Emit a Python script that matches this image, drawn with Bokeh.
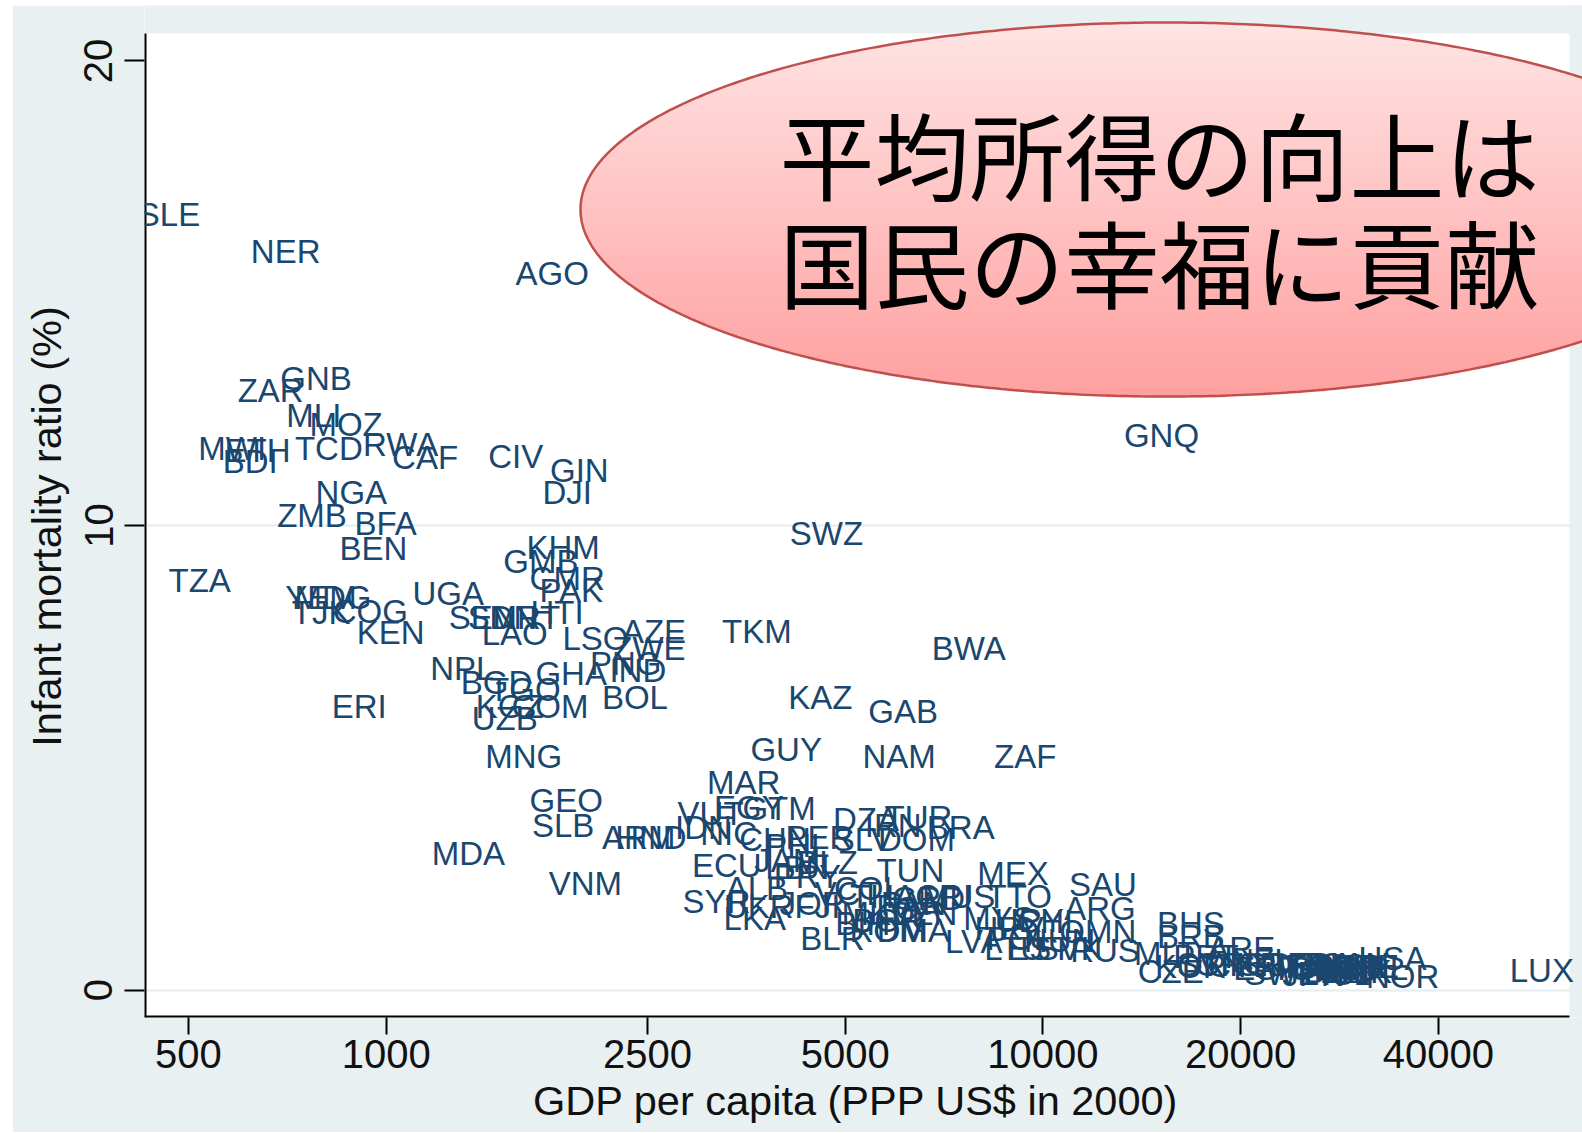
import numpy as np
from bokeh.plotting import figure
from bokeh.models import ColumnDataSource, Range1d, FixedTicker
from bokeh.embed import file_html
from bokeh.resources import INLINE
from bokeh.core.properties import value

# ---------------- data ----------------
codes = ["SLE","NER","AGO","GNB","ZAR","MLI","MOZ","MWI","ETH","BDI","TCD","RWA","CAF","CIV","GIN","DJI",
         "NGA","ZMB","BFA","BEN","KHM","GMB","CMR","PAK","TZA","YEM","MDG","TJK","COG","KEN","UGA","SEN",
         "SDN","MRT","LAO","HTI","LSO","AZE","ZWE","PNG","IND","GHA","NPL","BGD","TGO","KGZ","COM","UZB",
         "ERI","BOL","MNG","TKM","SWZ","BWA","KAZ","GAB","GUY","NAM","ZAF","GNQ","MAR","EGY","GTM","VUT",
         "IDN","NIC","CHN","PHL","PER","DZA","IRN","TUR","BRA","DOM","SLV","SLB","GEO","ARM","HND","MDA",
         "VNM","ECU","JAM","LBN","BLZ","ALB","PRY","SYR","LKA","UKR","FJI","VCT","TUN","THA","COL","PAN",
         "CRI","MKD","BIH","BGR","ROM","DMA","LCA","GRD","VEN","JOR","BLR","LVA","MUS","ARG","SAU","MEX",
         "TTO","OMN","URY","CHL","MYS","HRV","POL","LTU","EST","HUN","SVK","RUS","BHS","BRB","ARE","CZE",
         "KOR","SVN","PRT","GRC","ISR","MLT","CYP","NZL","ESP","ITA","FIN","FRA","DEU","JPN","GBR","AUT",
         "BEL","NLD","DNK","CAN","AUS","CHE","ISL","HKG","SWE","SGP","IRL","USA","NOR","LUX"]

gdp = [467, 703, 1790, 782, 667, 776, 869, 583, 637, 621, 818, 1052, 1146, 1575, 1968, 1886,
       885, 771, 998, 956, 1860, 1720, 1886, 1913, 520, 796, 830, 796, 946, 1016, 1243, 1402,
       1504, 1626, 1569, 1820, 2083, 2557, 2512, 2316, 2416, 1913, 1306, 1472, 1626, 1542, 1776, 1515,
       910, 2392, 1620, 3667, 4681, 7707, 4583, 6126, 4064, 6040, 9396, 15150, 3503, 3566, 3965, 3118,
       3042, 3322, 3908, 4225, 4566, 5375, 5914, 6463, 7496, 6418, 5317, 1860, 1880, 2424, 2530, 1334,
       2010, 3300, 4079, 4225, 4699, 3667, 4377, 3184, 3641, 3693, 4535, 5044, 6281, 5709, 5413, 6348,
       7059, 5609, 5317, 5808, 5808, 6348, 6237, 6693, 6573, 4457, 4779, 7847, 7441, 12210, 12340, 9005,
       9199, 12120, 9530, 10230, 8570, 8880, 9199, 9040, 9872, 10600, 10980, 12430, 16790, 16790, 20040, 15650,
       16790, 18020, 17700, 19340, 21130, 15380, 20040, 21510, 21880, 24780, 25660, 26400, 24900, 25800, 26750, 28530,
       27740, 29350, 30090, 29770, 27540, 30830, 29040, 28330, 23090, 29040, 32870, 34050, 35280, 57480]

imr = [16.70, 15.90, 15.42, 13.16, 12.90, 12.36, 12.18, 11.66, 11.62, 11.38, 11.66, 11.75, 11.47, 11.49, 11.18, 10.71,
       10.71, 10.21, 10.05, 9.51, 9.53, 9.23, 8.86, 8.60, 8.82, 8.45, 8.45, 8.12, 8.14, 7.69, 8.53, 8.01,
       8.01, 8.01, 7.67, 8.12, 7.56, 7.71, 7.36, 7.04, 6.88, 6.82, 6.93, 6.62, 6.47, 6.10, 6.10, 5.84,
       6.10, 6.30, 5.02, 7.71, 9.82, 7.36, 6.30, 5.99, 5.17, 5.02, 5.02, 11.94, 4.47, 3.93, 3.91, 3.80,
       3.50, 3.37, 3.24, 3.11, 3.28, 3.67, 3.54, 3.71, 3.50, 3.24, 3.24, 3.54, 4.08, 3.28, 3.28, 2.93,
       2.30, 2.69, 2.80, 2.63, 2.74, 2.19, 2.45, 1.91, 1.54, 1.80, 1.80, 2.08, 2.58, 2.02, 2.19, 1.87,
       2.02, 1.65, 1.43, 1.50, 1.28, 1.28, 1.76, 1.98, 1.65, 1.87, 1.11, 1.04, 2.02, 1.76, 2.28, 2.50,
       2.02, 1.26, 1.50, 1.48, 1.54, 1.32, 1.11, 0.89, 0.89, 1.06, 0.89, 0.85, 1.43, 1.15, 0.89, 0.41,
       0.50, 0.56, 0.72, 0.56, 0.56, 0.78, 0.52, 0.63, 0.46, 0.50, 0.50, 0.56, 0.56, 0.33, 0.46, 0.50,
       0.41, 0.46, 0.41, 0.56, 0.52, 0.50, 0.35, 0.41, 0.35, 0.50, 0.46, 0.67, 0.30, 0.43]

x_ticks = [500, 1000, 2500, 5000, 10000, 20000, 40000]
y_ticks = [0, 10, 20]
x_title = "GDP per capita (PPP US$ in 2000)"
y_title = "Infant mortality ratio (%)"
callout_lines = ["平均所得の向上は", "国民の幸福に貢献"]

# ---------------- plot-region geometry ----------------
X0, X1 = 428.6, 63330.0
Y0, Y1 = -0.59, 20.59
FL, FR, FT, FB = 144.0, 1569.0, 33.0, 1017.0       # page pixels of the white plot region
LX0, LX1 = np.log10(X0), np.log10(X1)

def xd(px):
    return 10 ** (LX0 + (np.asarray(px) - FL) / (FR - FL) * (LX1 - LX0))

def yd(py):
    return Y0 + (FB - np.asarray(py)) / (FB - FT) * (Y1 - Y0)

FIG_L, FIG_T, FIG_R, FIG_B = 12, 5, 1582, 1132
W, H = FIG_R - FIG_L, FIG_B - FIG_T
BG = "#e8f0f2"

p = figure(width=W, height=H, x_axis_type="log",
           x_range=Range1d(X0, float(xd(FIG_R))), y_range=Range1d(Y0, float(yd(FIG_T))),
           output_backend="svg", toolbar_location=None,
           min_border_left=int(FL - FIG_L), min_border_right=0, min_border_top=0,
           min_border_bottom=int(FIG_B - FB))
p.margin = (FIG_T, 0, 0, FIG_L)

p.background_fill_color = "white"
p.border_fill_color = BG
p.outline_line_color = None

FONT = "Liberation Sans"
for ax in (p.xaxis[0], p.yaxis[0]):
    ax.axis_line_color = None
    ax.major_tick_line_color = "black"
    ax.major_tick_line_width = 2
    ax.major_tick_in = 0
    ax.minor_tick_line_color = None
    ax.major_label_text_font = FONT
    ax.major_label_text_font_size = "40px"
    ax.major_label_text_color = "#111111"
    ax.major_label_text_line_height = 1.0
    ax.axis_label_text_font = FONT
    ax.axis_label_text_font_size = "41.5px"
    ax.axis_label_text_font_style = "normal"
    ax.axis_label_text_color = "#111111"
    ax.axis_label_text_line_height = 1.0

p.xaxis.ticker = FixedTicker(ticks=x_ticks)
p.xaxis.major_label_overrides = {t: str(t) for t in x_ticks}
p.xaxis.major_tick_out = 17
p.xaxis.major_label_standoff = 5
p.xaxis.axis_label_standoff = 6
# trailing non-breaking spaces re-centre the titles on the white plot region
p.xaxis.axis_label = x_title + "\u00a0\u200a"

p.yaxis.ticker = FixedTicker(ticks=y_ticks)
p.yaxis.major_label_orientation = "vertical"
p.yaxis.major_tick_out = 20
p.yaxis.major_label_standoff = 12
p.yaxis.axis_label_standoff = 12
p.yaxis.axis_label = y_title + "\u00a0\u00a0\u2006"

p.xgrid.grid_line_color = None
p.ygrid.ticker = FixedTicker(ticks=[0, 10])
p.ygrid.grid_line_color = "#e3ecef"
p.ygrid.grid_line_width = 2

# outer margin strips (top and right) inside the extended frame
p.quad(left=[X0 / 10, float(xd(FR))], right=[X1 * 10, X1 * 10],
       bottom=[float(yd(FT)), Y0 - 10], top=[Y1 + 10, Y1 + 10],
       fill_color=BG, line_color=None)

# axis lines limited to the plot region
p.segment(x0=[X0, X0], y0=[Y0, Y0], x1=[X0, float(xd(FR))], y1=[float(yd(FT)), Y0],
          line_color="black", line_width=4)

# ---------------- country labels ----------------
src = ColumnDataSource(dict(gdp=gdp, imr=imr, code=codes))
p.text(x="gdp", y="imr", text="code", source=src,
       text_font=value(FONT), text_font_size="33px", text_color="#1a476f",
       text_align="center", text_baseline="middle")

# ---------------- callout ellipse ----------------
cx, cy, ea, eb = 1166.0, 209.0, 586.0, 187.0
top_c = np.array([255, 229, 229])
bot_c = np.array([255, 160, 160])
step = 2.0
lefts, rights, tops, bottoms, cols = [], [], [], [], []
py = cy - eb
while py < cy + eb:
    mid = py + step / 2
    t = (mid - (cy - eb)) / (2 * eb)
    hw = ea * np.sqrt(max(0.0, 1 - ((mid - cy) / eb) ** 2))
    c = (top_c + (bot_c - top_c) * t).astype(int)
    lefts.append(float(xd(cx - hw)))
    rights.append(float(xd(cx + hw)))
    tops.append(float(yd(py)))
    bottoms.append(float(yd(py + step + 0.8)))
    cols.append("#%02x%02x%02x" % tuple(c))
    py += step
p.quad(left=lefts, right=rights, top=tops, bottom=bottoms, fill_color=cols, line_color=None)

th = np.linspace(0, 2 * np.pi, 600)
p.line(x=xd(cx + ea * np.cos(th)), y=yd(cy + eb * np.sin(th)), line_color="#c0504d", line_width=2.5)

p.text(x=[float(xd(1159))] * 2, y=[float(yd(152)), float(yd(260))], text=callout_lines,
       text_font=value("Noto Sans CJK JP"), text_font_size="95px", text_color="black",
       text_align="center", text_baseline="middle")

open("out.html", "w").write(file_html(p, INLINE))
